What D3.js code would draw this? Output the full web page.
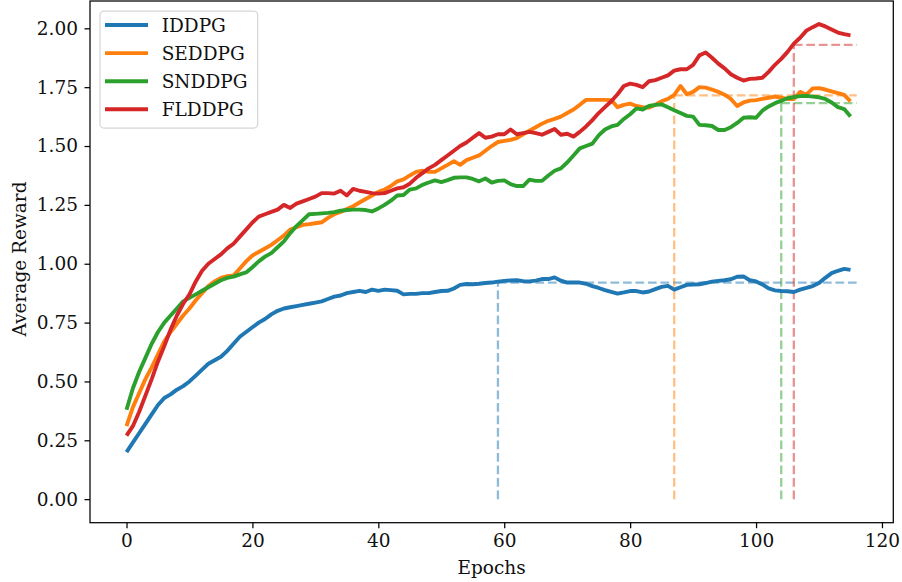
<!DOCTYPE html>
<html>
<head>
<meta charset="utf-8">
<script src="https://cdn.jsdelivr.net/npm/d3@7"></script>
<style>
  body { margin: 0; background: #fff; }
  svg { display: block; font-family: "DejaVu Serif", serif; }
</style>
</head>
<body>
<script>
'use strict';

// series names and colours
const names = ["IDDPG", "SEDDPG", "SNDDPG", "FLDDPG"];
const colors = ["#1f77b4", "#ff7f0e", "#2ca02c", "#d62728"];

// epochs 0..115, values
const iddpg = [0.20,0.24,0.28,0.32,0.36,0.40,0.43,0.445,0.465,0.48,0.50,0.525,0.55,0.575,0.59,0.605,0.63,0.66,0.69,0.71,
  0.73,0.75,0.765,0.785,0.80,0.81,0.815,0.82,0.825,0.83,0.835,0.84,0.85,0.86,0.865,0.875,0.88,0.885,0.88,0.89,
  0.885,0.89,0.888,0.885,0.87,0.872,0.872,0.875,0.875,0.88,0.884,0.885,0.895,0.91,0.914,0.913,0.915,0.918,0.92,0.924,
  0.927,0.929,0.93,0.926,0.925,0.928,0.935,0.935,0.942,0.928,0.92,0.92,0.92,0.915,0.905,0.897,0.888,0.88,0.873,0.878,
  0.884,0.884,0.878,0.882,0.892,0.902,0.906,0.89,0.90,0.91,0.912,0.913,0.918,0.924,0.927,0.93,0.934,0.945,0.946,0.93,
  0.925,0.912,0.895,0.887,0.884,0.883,0.88,0.89,0.897,0.905,0.918,0.94,0.96,0.97,0.978,0.974];

const seddpg = [0.31,0.39,0.45,0.51,0.56,0.615,0.67,0.71,0.745,0.78,0.81,0.845,0.875,0.905,0.925,0.94,0.947,0.95,0.98,1.01,
  1.035,1.05,1.065,1.08,1.10,1.12,1.145,1.155,1.165,1.168,1.172,1.176,1.195,1.21,1.22,1.232,1.244,1.26,1.275,1.29,
  1.305,1.315,1.33,1.35,1.358,1.375,1.39,1.395,1.39,1.39,1.405,1.42,1.435,1.42,1.44,1.45,1.46,1.48,1.50,1.517,
  1.522,1.526,1.534,1.55,1.565,1.58,1.595,1.607,1.615,1.625,1.64,1.655,1.675,1.696,1.696,1.696,1.696,1.695,1.665,1.675,
  1.68,1.67,1.665,1.663,1.675,1.69,1.70,1.717,1.755,1.72,1.73,1.75,1.748,1.74,1.73,1.718,1.70,1.67,1.685,1.693,
  1.695,1.70,1.705,1.71,1.705,1.70,1.70,1.73,1.718,1.745,1.746,1.74,1.732,1.725,1.717,1.69];

const snddpg = [0.38,0.47,0.54,0.60,0.66,0.71,0.75,0.78,0.81,0.84,0.855,0.87,0.885,0.90,0.915,0.93,0.94,0.945,0.955,0.963,
  0.985,1.01,1.03,1.045,1.07,1.095,1.13,1.16,1.185,1.21,1.212,1.214,1.216,1.219,1.225,1.228,1.23,1.23,1.228,1.222,
  1.235,1.25,1.268,1.29,1.292,1.315,1.32,1.335,1.345,1.354,1.347,1.355,1.365,1.367,1.367,1.36,1.35,1.362,1.345,1.352,
  1.354,1.338,1.33,1.33,1.357,1.352,1.352,1.375,1.395,1.405,1.43,1.46,1.49,1.50,1.51,1.545,1.57,1.583,1.59,1.615,
  1.635,1.66,1.655,1.67,1.675,1.677,1.665,1.652,1.64,1.628,1.625,1.59,1.588,1.585,1.568,1.568,1.58,1.598,1.62,1.622,
  1.62,1.65,1.668,1.682,1.692,1.703,1.708,1.712,1.713,1.71,1.707,1.70,1.685,1.665,1.657,1.625];

const flddpg = [0.27,0.31,0.37,0.44,0.51,0.585,0.65,0.72,0.78,0.83,0.87,0.925,0.97,1.00,1.02,1.04,1.065,1.085,1.115,1.145,
  1.175,1.20,1.21,1.22,1.23,1.25,1.237,1.255,1.265,1.275,1.285,1.30,1.30,1.298,1.31,1.29,1.318,1.31,1.305,1.30,
  1.298,1.30,1.31,1.32,1.325,1.34,1.365,1.385,1.405,1.42,1.44,1.46,1.48,1.50,1.515,1.535,1.555,1.535,1.54,1.55,
  1.55,1.57,1.55,1.555,1.56,1.555,1.548,1.56,1.572,1.548,1.552,1.54,1.56,1.583,1.61,1.64,1.665,1.69,1.72,1.755,
  1.765,1.76,1.75,1.775,1.78,1.79,1.80,1.82,1.826,1.826,1.845,1.885,1.897,1.875,1.85,1.83,1.805,1.79,1.778,1.785,
  1.787,1.79,1.815,1.845,1.87,1.90,1.935,1.96,1.99,2.005,2.018,2.008,1.995,1.982,1.975,1.97];

// dashed markers: epoch where each run settles, and the level it settles at
const markEpochs = [59, 87, 104, 106];
const markLevels = [0.92, 1.715, 1.682, 1.93];
const markEnd = 116;

const xTicks = [0, 20, 40, 60, 80, 100, 120];
const yTicks = [0, 0.25, 0.5, 0.75, 1.0, 1.25, 1.5, 1.75, 2.0];

const W = 902, H = 582;
const plotL = 90, plotR = 893.3, plotT = 1, plotB = 522.7;

const x = d3.scaleLinear().domain([-5.8, 121.8]).range([plotL, plotR]);
const y = d3.scaleLinear().domain([-0.1, 2.116]).range([plotB, plotT]);

const svg = d3.select("body").append("svg")
    .attr("width", W)
    .attr("height", H);

const series = [iddpg, seddpg, snddpg, flddpg];

// dashed guides go under the curves
const guides = svg.append("g").attr("fill", "none")
    .attr("stroke-width", 2.3)
    .attr("stroke-dasharray", "8.7,3.8")
    .attr("stroke-opacity", 0.5);
markEpochs.forEach((e, i) => {
    guides.append("line")
        .attr("x1", x(e)).attr("x2", x(e))
        .attr("y1", y(0)).attr("y2", y(markLevels[i]))
        .attr("stroke", colors[i]);
    guides.append("line")
        .attr("x1", x(e)).attr("x2", x(markEnd))
        .attr("y1", y(markLevels[i])).attr("y2", y(markLevels[i]))
        .attr("stroke", colors[i]);
});

const line = d3.line()
    .x((d, i) => x(i))
    .y(d => y(d));

series.forEach((s, i) => {
    svg.append("path")
        .datum(s)
        .attr("fill", "none")
        .attr("stroke", colors[i])
        .attr("stroke-width", 3.9)
        .attr("stroke-linejoin", "round")
        .attr("stroke-linecap", "butt")
        .attr("d", line);
});

// axes
const xAxis = svg.append("g")
    .attr("transform", `translate(0,${plotB})`)
    .call(d3.axisBottom(x).tickValues(xTicks).tickFormat(d3.format("d")).tickSize(5.5).tickPadding(5.5));
const yAxis = svg.append("g")
    .attr("transform", `translate(${plotL},0)`)
    .call(d3.axisLeft(y).tickValues(yTicks).tickFormat(d3.format(".2f")).tickSize(5.5).tickPadding(6.5));

[xAxis, yAxis].forEach(a => {
    a.select(".domain").remove();
    a.selectAll(".tick line").attr("stroke", "#000").attr("stroke-width", 1.25);
    a.selectAll(".tick text")
        .attr("fill", "#111")
        .style("font-family", "'DejaVu Serif', serif")
        .style("font-size", "18.5px");
});

// frame
svg.append("rect")
    .attr("x", plotL).attr("y", plotT)
    .attr("width", plotR - plotL).attr("height", plotB - plotT)
    .attr("fill", "none")
    .attr("stroke", "#000")
    .attr("stroke-width", 1.25);

svg.append("text")
    .attr("x", (plotL + plotR) / 2)
    .attr("y", 573.5)
    .attr("text-anchor", "middle")
    .attr("font-size", 18.5)
    .attr("fill", "#111")
    .text("Epochs");

svg.append("text")
    .attr("transform", `translate(25.5,${259}) rotate(-90)`)
    .attr("text-anchor", "middle")
    .attr("font-size", 18.5)
    .attr("fill", "#111")
    .text("Average Reward");

// legend
const legend = svg.append("g");
legend.append("rect")
    .attr("x", 100).attr("y", 11)
    .attr("width", 157.7).attr("height", 117)
    .attr("rx", 4)
    .attr("fill", "#fff").attr("fill-opacity", 0.8)
    .attr("stroke", "#d6d6d6").attr("stroke-width", 1.25);

names.forEach((n, i) => {
    const ly = 25 + i * 28.1;
    legend.append("line")
        .attr("x1", 105).attr("x2", 148)
        .attr("y1", ly).attr("y2", ly)
        .attr("stroke", colors[i])
        .attr("stroke-width", 3.9);
    legend.append("text")
        .attr("x", 161.7)
        .attr("y", ly + 6.8)
        .attr("font-size", 18.5)
        .attr("fill", "#111")
        .text(n);
});
</script>
</body>
</html>
